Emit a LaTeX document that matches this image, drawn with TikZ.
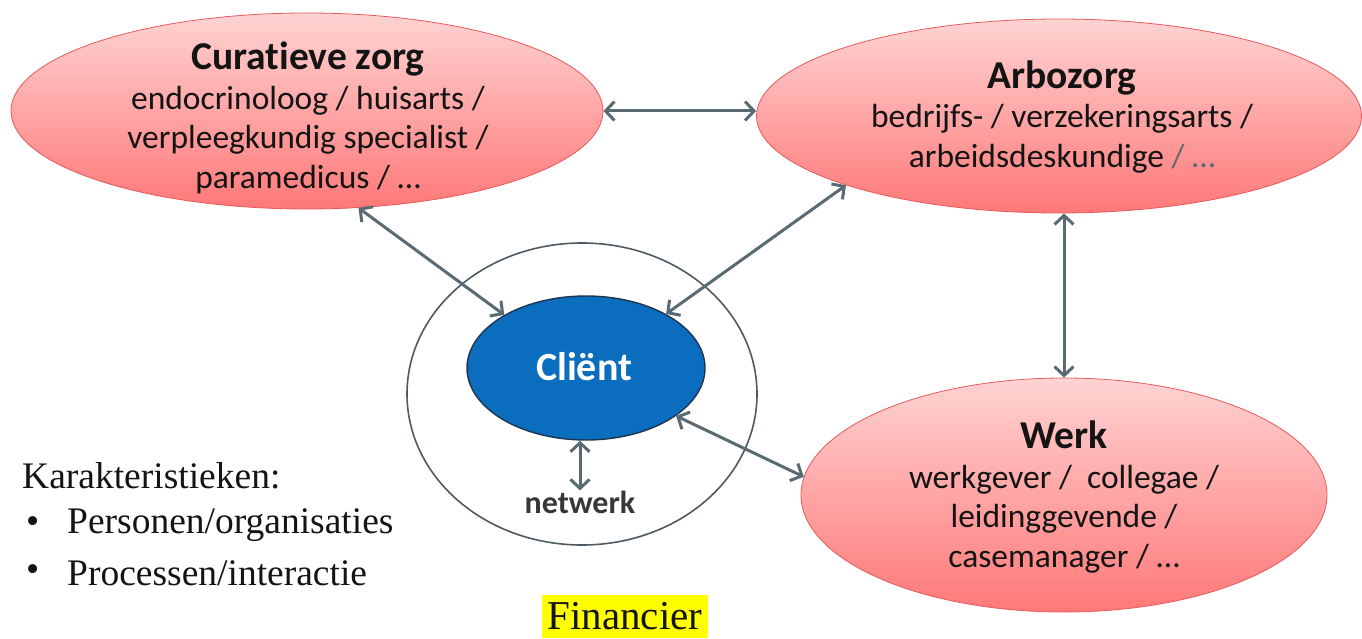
\documentclass[tikz,border=0pt]{standalone}
\usepackage{fontspec}
\setmainfont[Ligatures=NoCommon]{Carlito}
\newfontfamily\slabfont{Liberation Serif}
\usetikzlibrary{arrows.meta,shapes.geometric}
\definecolor{arrowc}{HTML}{5A6A73}
\definecolor{pinktop}{HTML}{FFD3D3}
\definecolor{pinkbot}{HTML}{FF7878}
\definecolor{pinkline}{HTML}{E65A5C}
\definecolor{clientblue}{HTML}{0A6DBE}
\definecolor{clientline}{HTML}{1E3550}
\definecolor{ringc}{HTML}{4E5A62}
\definecolor{txt}{HTML}{141414}
\definecolor{hl}{HTML}{FFFF00}
\newcommand\ttlfont{\fontsize{39.5}{40}\selectfont\bfseries}
\tikzset{
  pinkell/.style={ellipse, draw=pinkline, line width=0.8pt, top color=pinktop, bottom color=pinkbot, inner sep=0pt},
  conn/.style={draw=arrowc, line width=3pt, {Straight Barb[length=9pt,width=19pt]}-{Straight Barb[length=9pt,width=19pt]}},
  body/.style={align=center, text=txt, font=\fontsize{33.5}{39.5}\selectfont, inner sep=0pt},
  slab/.style={text=txt, font=\slabfont\fontsize{37.5}{40}\selectfont, inner sep=0pt, anchor=west}
}
\begin{document}
\begin{tikzpicture}[x=1pt,y=-1pt]
\useasboundingbox (0,0) rectangle (1362,639);
% ellipses
\node[pinkell, minimum width=592pt, minimum height=196pt] (cur) at (307,111) {};
\node[pinkell, minimum width=605pt, minimum height=194pt] (arbo) at (1059,116) {};
\node[pinkell, minimum width=526pt, minimum height=234pt] (werk) at (1064,495) {};
\node[ellipse, draw=ringc, line width=1.6pt, minimum width=350pt, minimum height=302pt] (ring) at (582,394) {};
\node[ellipse, draw=clientline, line width=1.4pt, fill=clientblue, minimum width=238pt, minimum height=144pt, inner sep=0pt] (client) at (586,368) {};
% texts
\node[body] (curt) at (308,118) {{\ttlfont Curatieve zorg}\\endocrinoloog / huisarts /\\verpleegkundig specialist /\\paramedicus / \dots};
\node[body] (arbot) at (1062,117) {{\ttlfont Arbozorg}\\bedrijfs- / verzekeringsarts /\\arbeidsdeskundige {\color{arrowc}/ \dots}};
\node[body] (werkt) at (1064,497) {{\ttlfont Werk}\\werkgever / \ collegae /\\leidinggevende /\\casemanager / \dots};
\node[text=white, font=\fontsize{40}{44}\selectfont\bfseries, inner sep=0pt] (clientt) at (584,367) {Cliënt};
\node[text=txt!85!white, font=\fontsize{32}{36}\selectfont\bfseries, inner sep=0pt] (netw) at (580,502) {netwerk};
% connectors
\draw[conn] (cur.east) -- (cur.east -| arbo.west);
\draw[conn] (cur.-62) -- (client.147);
\draw[conn] (arbo.-162.5) -- (client.34);
\draw[conn] (werk.north) -- (werk.north |- arbo.south);
\draw[conn] (client.-28) -- (werk.176.3);
\draw[conn] (netw.north) -- (netw.north |- client.south);
% left text
\node[slab] (kar) at (22,476) {Karakteristieken:};
\node[slab] (b1) at (26,525) {•};
\node[slab] (p1) at (67,525) {Personen/organisaties};
\node[slab] (b2) at (26,573) {•};
\node[slab] (p2) at (67,573) {Processen/interactie};
\node[fill=hl, text=txt, font=\slabfont\fontsize{41}{44}\selectfont, inner sep=0pt, minimum width=166pt, minimum height=43pt] (fin) at (625,616.5) {Financier};
\end{tikzpicture}
\end{document}
